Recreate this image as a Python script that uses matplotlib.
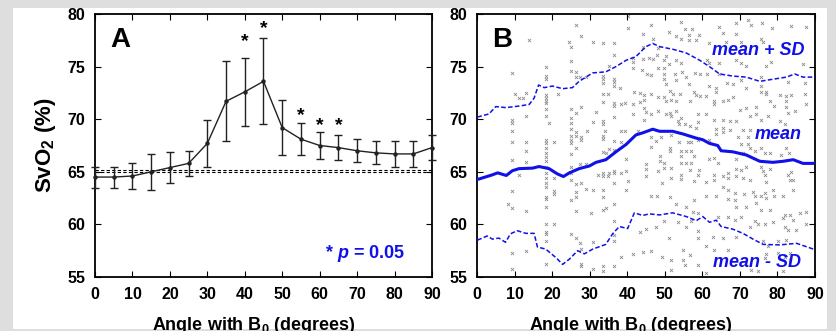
import numpy as np
import matplotlib.pyplot as plt
from matplotlib.patches import Rectangle

plt.rcParams['font.family'] = ['Liberation Sans', 'DejaVu Sans']
plt.rcParams['mathtext.fontset'] = 'custom'
plt.rcParams['mathtext.it'] = 'Liberation Sans:italic:bold'
plt.rcParams['mathtext.bf'] = 'Liberation Sans:bold'
plt.rcParams['mathtext.rm'] = 'Liberation Sans:bold'

# ---- panel A: binned means with SD error bars
angle_a = [0, 5, 10, 15, 20, 25, 30, 35, 40, 45, 50, 55, 60, 65, 70, 75, 80, 85, 90]
svo2_a = [64.5, 64.5, 64.6, 65.0, 65.4, 65.8, 67.7, 71.7, 72.6, 73.6, 69.2, 68.1, 67.5, 67.3, 67.0, 66.8, 66.7, 66.7, 67.3]
sd_a = [1.0, 1.0, 1.2, 1.7, 1.5, 1.2, 2.2, 3.8, 3.2, 4.1, 2.6, 1.5, 1.3, 1.2, 1.1, 1.1, 1.2, 1.2, 1.2]
star_angles = [40, 45, 55, 60, 65]
star_y = [77.65, 78.9, 70.65, 69.7, 69.7]
ref_lines = [65.2, 64.95]

# ---- panel B: individual vessels + running mean / SD
pts = [
    (26.3, 79.0), (27.6, 77.9), (13.8, 77.5), (24.5, 77.3), (25.1, 76.9), (18.3, 75.0), (25.1, 75.5),
    (25.1, 74.6), (26.3, 74.5), (26.4, 74.0), (27.3, 74.0), (28.9, 74.0), (9.3, 74.4), (18.3, 74.1),
    (18.3, 73.8), (10.0, 72.4), (11.3, 72.0), (13.1, 72.5), (12.2, 72.0), (18.3, 72.3), (18.3, 72.0),
    (18.3, 71.7), (18.3, 71.5), (18.4, 71.0), (21.6, 72.4), (25.1, 71.0), (26.3, 70.6), (27.6, 71.2),
    (13.1, 70.3), (9.3, 69.9), (9.3, 69.6), (19.1, 69.6), (9.3, 68.9), (18.3, 70.3), (25.1, 70.1),
    (25.1, 69.6), (25.1, 69.1), (26.4, 68.8), (29.4, 68.9), (25.1, 68.4), (25.1, 68.0), (26.4, 68.4),
    (27.6, 68.3), (27.6, 68.0), (9.3, 67.8), (13.1, 67.8), (18.3, 68.0), (18.3, 67.7), (20.4, 67.8),
    (25.1, 67.7),
    (40.1, 79.8), (40.1, 78.7), (46.2, 79.0), (54.2, 79.2), (55.3, 78.6), (57.3, 78.6), (51.1, 78.3),
    (44.1, 78.1), (46.8, 77.6), (53.1, 77.9), (54.4, 77.6), (56.4, 78.0), (59.1, 78.0), (58.2, 77.5),
    (56.4, 77.5), (30.8, 77.3), (33.5, 77.2), (36.6, 77.2), (44.1, 76.9), (36.6, 76.1), (48.2, 76.8),
    (48.0, 76.1), (50.2, 76.0), (49.9, 75.6), (45.9, 75.8), (41.5, 75.8), (41.5, 75.4), (44.1, 75.7),
    (46.8, 75.7), (51.1, 75.2), (52.9, 75.6), (54.4, 75.3), (49.9, 74.9), (41.5, 74.9), (48.2, 74.9),
    (33.5, 74.1), (33.5, 73.8), (33.5, 73.4), (36.4, 73.8), (36.4, 73.5), (36.4, 73.2), (35.1, 75.1),
    (44.0, 74.7), (45.2, 74.3), (46.4, 74.2), (49.9, 74.3), (49.9, 73.8), (50.2, 73.3), (52.6, 74.3),
    (53.1, 73.7), (54.7, 74.5), (55.7, 74.0), (56.4, 73.3), (58.0, 74.4), (59.3, 74.3), (38.1, 73.0),
    (41.9, 72.6), (43.3, 72.5), (44.6, 72.3), (46.4, 72.4), (51.3, 72.7), (52.2, 72.4), (54.0, 72.4),
    (57.9, 72.6), (58.2, 72.3), (59.3, 72.2), (33.5, 72.4), (34.8, 72.4), (33.5, 71.6), (36.6, 71.5),
    (36.6, 71.3), (38.4, 71.4), (39.3, 71.5), (41.5, 71.4), (43.3, 71.6), (44.6, 71.8), (48.2, 72.1),
    (49.9, 72.1), (50.2, 71.7), (51.7, 71.8), (53.1, 71.7), (56.6, 71.7), (31.7, 70.7), (41.5, 70.5),
    (44.6, 71.1), (44.9, 70.7), (46.4, 70.5), (48.2, 70.8), (50.2, 70.5), (51.3, 70.6), (53.1, 70.8),
    (51.7, 70.3), (54.4, 70.1), (58.8, 70.5), (58.8, 69.7), (30.8, 69.7), (33.5, 69.8), (33.5, 69.5),
    (36.6, 70.2), (44.6, 69.9), (53.5, 69.8), (53.9, 69.5), (55.3, 69.5), (56.6, 69.4), (58.4, 69.2),
    (34.2, 68.9), (38.4, 68.9), (39.5, 68.9), (42.8, 68.9), (33.5, 68.4), (33.5, 68.1), (36.6, 67.9),
    (38.4, 67.8), (46.4, 68.3), (47.7, 67.9), (49.0, 68.3), (51.7, 68.5), (53.9, 67.8), (56.2, 67.8),
    (57.1, 67.8), (58.8, 68.0),
    (64.4, 78.8), (65.4, 78.2), (69.0, 78.1), (69.0, 79.1), (72.1, 79.4), (73.0, 79.0), (75.9, 79.1),
    (78.6, 78.7), (83.7, 78.9), (87.7, 78.8), (61.9, 77.2), (66.3, 77.3), (70.3, 77.3), (75.7, 77.6),
    (76.1, 77.3), (61.2, 75.6), (61.9, 75.3), (64.4, 75.3), (69.0, 75.6), (70.3, 75.3), (71.7, 75.1),
    (78.4, 75.4), (77.0, 75.1), (86.8, 75.2), (61.2, 74.3), (64.4, 74.3), (61.9, 73.2), (63.7, 73.0),
    (63.7, 72.6), (66.5, 73.4), (68.1, 73.3), (70.3, 73.7), (71.7, 73.0), (75.7, 74.0), (75.7, 73.2),
    (75.7, 72.6), (77.0, 72.6), (77.0, 72.4), (80.6, 72.3), (82.8, 73.5), (83.7, 72.3), (87.3, 73.4),
    (87.3, 72.4), (61.0, 72.2), (63.2, 71.7), (63.2, 71.4), (65.4, 71.7), (66.8, 71.8), (68.1, 72.1),
    (70.1, 70.9), (71.7, 71.1), (74.3, 71.2), (74.3, 70.5), (77.9, 71.7), (79.2, 71.3), (82.4, 72.2),
    (82.4, 71.7), (82.4, 71.2), (82.8, 70.6), (84.6, 70.8), (87.7, 71.4), (61.0, 70.5), (63.2, 69.9),
    (65.4, 69.9), (67.4, 69.8), (69.0, 69.8), (72.6, 70.3), (75.7, 69.9), (77.5, 70.3), (80.6, 69.8),
    (81.9, 69.5), (63.7, 69.1), (65.4, 69.2), (65.4, 68.8), (67.4, 69.0), (70.8, 69.0), (72.6, 69.0),
    (63.7, 68.6), (69.4, 68.3), (72.1, 68.3), (61.9, 68.0), (72.1, 67.6), (70.3, 67.6),
    (13.1, 67.0), (18.3, 67.3), (18.3, 66.8), (25.1, 66.7), (26.3, 67.3), (9.3, 66.1), (13.1, 65.9),
    (18.3, 66.4), (18.3, 66.0), (18.3, 65.5), (25.1, 65.5), (27.3, 65.7), (28.9, 65.7), (11.3, 64.7),
    (18.3, 64.9), (18.3, 64.4), (18.3, 63.9), (18.3, 63.6), (20.4, 64.4), (25.1, 64.9), (25.1, 64.2),
    (26.3, 63.8), (27.8, 63.9), (29.1, 63.4), (9.3, 63.2), (20.4, 63.2), (20.4, 62.9), (26.3, 63.1),
    (18.3, 62.6), (18.3, 62.4), (25.1, 62.3), (26.3, 62.6), (8.2, 61.9), (9.3, 61.6), (13.1, 61.3),
    (18.3, 61.7), (26.3, 61.3), (18.3, 60.0), (20.4, 60.0), (18.3, 59.3), (18.3, 59.1), (25.1, 59.1),
    (26.4, 58.7), (18.3, 58.4), (27.5, 58.2), (27.8, 57.7), (9.3, 57.3), (13.1, 57.5), (18.3, 56.2),
    (27.8, 56.2), (27.8, 56.0), (9.3, 55.8),
    (33.5, 66.9), (35.1, 67.2), (34.4, 66.8), (36.6, 67.1), (39.7, 66.2), (46.2, 67.4), (48.6, 66.0),
    (51.3, 67.3), (51.5, 67.0), (54.4, 67.0), (55.7, 67.0), (57.1, 67.0), (48.6, 66.5), (49.9, 65.8),
    (54.4, 66.5), (54.4, 65.8), (55.7, 65.8), (57.1, 65.8), (57.9, 66.5), (44.9, 65.7), (44.9, 65.3),
    (49.9, 65.4), (48.2, 65.1), (51.7, 65.4), (54.4, 64.7), (54.4, 64.3), (56.6, 65.2), (58.8, 64.7),
    (59.1, 65.2), (32.1, 64.7), (33.5, 64.9), (33.5, 64.6), (34.8, 64.6), (35.2, 64.9), (36.6, 65.1),
    (36.6, 64.9), (36.6, 63.9), (38.4, 64.9), (39.7, 65.1), (40.1, 64.1), (44.9, 64.6), (49.3, 63.9),
    (51.7, 64.4), (57.9, 64.1), (30.8, 63.3), (33.5, 63.3), (33.5, 62.6), (39.7, 63.3), (46.2, 62.7),
    (48.0, 62.7), (51.5, 62.6), (57.9, 62.3), (53.1, 61.9), (55.7, 61.7), (57.5, 61.2), (58.8, 61.1),
    (33.5, 61.4), (34.4, 61.6), (36.6, 61.9), (30.3, 61.1), (36.6, 60.3), (44.9, 59.6), (43.3, 59.3),
    (47.7, 59.8), (49.9, 60.3), (53.5, 60.2), (55.7, 59.8), (57.1, 60.3), (58.8, 59.4), (51.1, 58.7),
    (58.8, 58.7), (36.6, 59.0), (30.8, 58.3), (36.6, 58.4), (41.5, 57.2), (46.4, 57.5), (44.1, 57.4),
    (54.8, 57.6), (56.6, 57.1), (38.4, 56.9), (49.3, 56.9), (51.7, 56.6), (54.8, 56.6), (33.5, 56.0),
    (36.6, 56.0), (30.8, 55.8), (33.5, 55.6), (55.3, 56.1), (58.8, 56.1), (51.7, 55.7),
    (61.9, 66.2), (63.2, 66.3), (64.1, 65.8), (69.0, 66.2), (70.8, 66.8), (72.6, 67.3), (73.9, 67.0),
    (75.7, 67.3), (76.6, 66.8), (77.9, 66.8), (81.0, 66.6), (82.4, 67.3), (83.1, 66.8), (69.0, 65.3),
    (70.3, 65.2), (71.7, 65.5), (75.7, 65.5), (76.1, 65.1), (77.9, 65.3), (83.7, 65.0), (63.2, 64.7),
    (63.2, 64.2), (65.4, 64.6), (66.8, 64.9), (66.8, 64.4), (69.0, 64.6), (70.8, 64.4), (72.6, 64.2),
    (76.6, 64.7), (77.0, 64.0), (82.8, 64.7), (83.3, 64.2), (84.1, 64.2), (61.0, 64.0), (65.4, 63.6),
    (66.8, 63.3), (68.6, 63.0), (71.2, 62.9), (73.5, 63.1), (73.9, 62.7), (75.7, 62.7), (76.6, 63.0),
    (77.0, 62.5), (78.8, 63.3), (79.2, 62.7), (81.5, 62.7), (84.1, 63.3), (61.0, 62.7), (63.7, 62.7),
    (66.8, 62.4), (68.6, 62.3), (69.0, 61.7), (71.7, 61.7), (74.3, 62.0), (75.7, 61.4), (77.9, 61.4),
    (81.9, 60.9), (81.5, 60.6), (83.3, 60.9), (84.1, 60.4), (85.9, 61.1), (87.7, 61.2), (64.1, 60.7),
    (66.8, 60.7), (68.6, 60.4), (70.3, 60.7), (73.9, 60.3), (74.8, 60.0), (76.6, 60.0), (78.8, 60.2),
    (81.9, 59.8), (82.8, 59.5), (85.0, 59.5), (87.7, 60.0), (72.6, 59.8), (62.8, 58.8), (65.4, 58.7),
    (69.0, 58.8), (76.1, 58.4), (77.5, 57.9), (80.1, 58.4), (82.4, 58.5), (61.0, 57.9), (63.2, 57.6),
    (66.8, 57.6), (77.0, 57.2), (76.6, 56.8), (80.1, 57.3), (81.9, 56.9), (83.3, 57.3), (83.3, 56.6),
    (73.0, 55.7), (74.8, 55.6), (81.5, 55.6), (61.0, 55.4),
]
pts_x = [p[0] for p in pts]
pts_y = [p[1] for p in pts]

mean_x = [0.1, 4.0, 5.5, 7.8, 9.4, 11.2, 14.8, 16.5, 19.2, 21.4, 23.0, 24.6, 27.2, 29.9, 31.7, 34.3,
          37.0, 39.7, 42.3, 44.1, 46.8, 48.6, 52.1, 54.8, 58.4, 60.1, 61.9, 64.1, 65.0, 68.1, 71.7,
          75.3, 78.8, 81.5, 84.2, 86.8, 90.0]
mean_y = [64.27, 64.7, 64.9, 64.65, 65.1, 65.3, 65.35, 65.5, 65.3, 64.8, 64.55, 64.9, 65.3, 65.55,
          65.9, 66.15, 66.9, 67.6, 68.5, 68.7, 69.05, 68.85, 68.85, 68.6, 68.2, 68.05, 67.7, 67.5,
          67.0, 66.9, 66.6, 66.0, 65.9, 66.0, 66.15, 65.8, 65.8]

up_x = [0.1, 3.2, 5.0, 7.7, 11.2, 13.9, 15.2, 16.4, 17.9, 20.1, 22.8, 25.4, 27.2, 30.8, 34.3, 37.0,
        39.7, 42.3, 45.0, 46.8, 48.6, 52.1, 55.7, 59.3, 61.9, 64.6, 68.1, 71.7, 75.3, 78.8, 82.4,
        84.6, 86.8, 90.0]
up_y = [70.2, 70.5, 71.2, 71.1, 71.25, 71.4, 72.0, 73.25, 73.0, 73.15, 72.9, 73.0, 73.6, 74.4, 74.5,
        75.0, 75.6, 75.95, 76.9, 77.2, 76.9, 76.65, 76.3, 75.6, 75.0, 74.3, 74.1, 74.0, 73.6, 73.8,
        74.0, 74.3, 74.0, 74.0]

lo_x = [0.1, 2.7, 4.1, 5.8, 7.6, 8.9, 10.7, 13.0, 15.2, 16.1, 18.3, 21.0, 22.8, 24.6, 26.8, 28.6,
        30.8, 34.3, 36.1, 37.9, 40.1, 41.9, 44.1, 45.9, 48.6, 52.1, 55.7, 58.4, 60.1, 61.9, 63.7,
        65.0, 68.1, 70.8, 73.5, 76.2, 80.6, 85.1, 90.0]
lo_y = [58.5, 58.9, 58.6, 58.7, 58.3, 59.1, 59.4, 59.15, 59.15, 57.85, 57.65, 56.85, 56.2, 56.7,
        57.5, 57.2, 57.65, 58.1, 59.1, 59.8, 59.6, 61.1, 60.85, 61.0, 60.9, 61.1, 60.75, 60.35,
        60.75, 60.2, 60.4, 59.8, 59.55, 59.15, 58.6, 58.1, 58.05, 58.2, 57.6]

xticks = list(range(0, 91, 10))
yticks = [55, 60, 65, 70, 75, 80]
blue = '#1010e8'

fig = plt.figure(figsize=(8.37, 3.31), dpi=100, facecolor='#dedede')
fig.patches.append(Rectangle((13 / 837, 2 / 331), (827 - 13) / 837, (331 - 8 - 2) / 331,
                             transform=fig.transFigure, facecolor='white', edgecolor='none', zorder=-10))

axA = fig.add_axes([95 / 837, 54 / 331, 337 / 837, 263 / 331])
axB = fig.add_axes([477 / 837, 54 / 331, 338 / 837, 263 / 331])

for ax, xl in ((axA, 0.47), (axB, 0.456)):
    ax.set_xlim(0, 90)
    ax.set_ylim(55, 80)
    ax.set_xticks(xticks)
    ax.set_yticks(yticks)
    ax.tick_params(direction='in', length=4, width=0.8, top=True, right=True,
                   labelsize=11.5, pad=7)
    for lab in ax.get_xticklabels() + ax.get_yticklabels():
        lab.set_fontweight('bold')
    for s in ax.spines.values():
        s.set_linewidth(1.3)
    ax.set_xlabel('Angle with B$_\\mathbf{0}$ (degrees)', fontsize=13, fontweight='bold', labelpad=9)
    ax.xaxis.set_label_coords(xl, -0.145)

# panel A
for r in ref_lines:
    axA.axhline(r, color='black', lw=0.8, ls=(0, (3, 2)))
axA.errorbar(angle_a, svo2_a, yerr=sd_a, color='#222222', lw=1.0, elinewidth=1.0,
             capsize=2.7, capthick=1.0, marker='o', ms=2.2, clip_on=False, zorder=3)
for a, sy in zip(star_angles, star_y):
    axA.text(a, sy - 0.3, '*', ha='center', va='center', fontsize=14, fontweight='bold')
axA.text(0.045, 0.95, 'A', transform=axA.transAxes, fontsize=20, fontweight='bold', va='top')
axA.text(0.92, 0.09, '* $p$ = 0.05', transform=axA.transAxes, color=blue,
         fontsize=13, fontweight='bold', ha='right', va='center')
axA.set_ylabel('SvO$_\\mathbf{2}$ (%)', fontsize=16, fontweight='bold', labelpad=7)

# panel B
axB.scatter(pts_x, pts_y, marker='x', s=5, lw=0.6, color='#8c8c8c', zorder=1)
axB.plot(mean_x, mean_y, color=blue, lw=2.2, zorder=3)
axB.plot(up_x, up_y, color=blue, lw=1.1, ls=(0, (3, 1.5)), zorder=3)
axB.plot(lo_x, lo_y, color=blue, lw=1.1, ls=(0, (3, 1.5)), zorder=3)
axB.text(0.045, 0.95, 'B', transform=axB.transAxes, fontsize=20, fontweight='bold', va='top')
axB.text(0.97, 0.86, 'mean + SD', transform=axB.transAxes, color=blue, fontsize=13,
         fontweight='bold', style='italic', ha='right', va='center')
axB.text(0.96, 0.54, 'mean', transform=axB.transAxes, color=blue, fontsize=13,
         fontweight='bold', style='italic', ha='right', va='center')
axB.text(0.96, 0.055, 'mean - SD', transform=axB.transAxes, color=blue, fontsize=13,
         fontweight='bold', style='italic', ha='right', va='center')

fig.savefig('out.png', dpi=100, facecolor=fig.get_facecolor())
